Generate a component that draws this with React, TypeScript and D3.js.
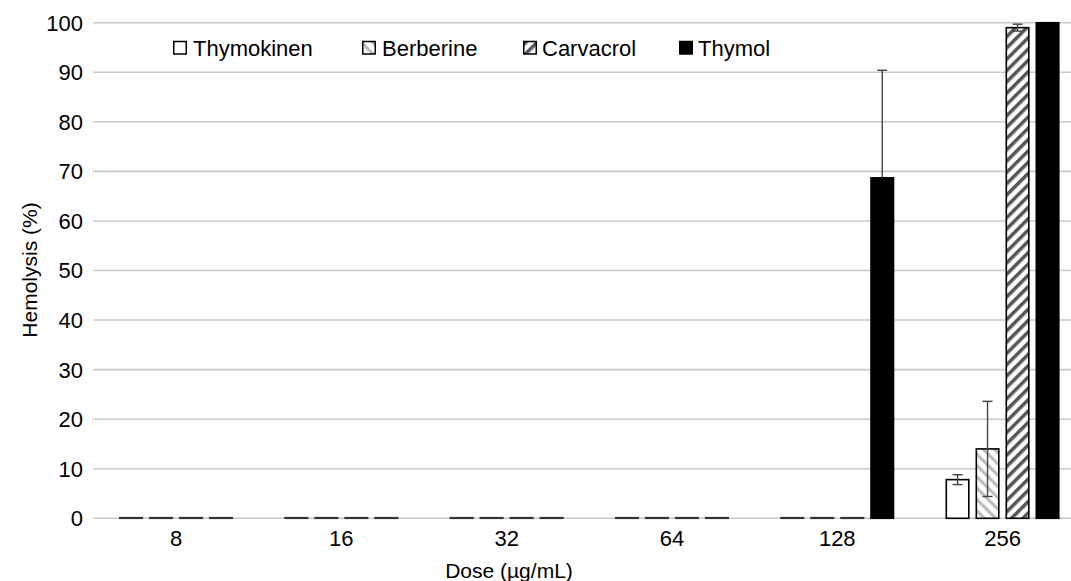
import React from "react";
import * as d3 from "d3";

const categories = ["8", "16", "32", "64", "128", "256"];
const seriesNames = ["Thymokinen", "Berberine", "Carvacrol", "Thymol"];
const thymokinen = [0, 0, 0, 0, 0, 7.8];
const thymokinenErrUp = [0, 0, 0, 0, 0, 1.0];
const thymokinenErrDown = [0, 0, 0, 0, 0, 1.0];
const berberine = [0, 0, 0, 0, 0, 14.0];
const berberineErrUp = [0, 0, 0, 0, 0, 9.6];
const berberineErrDown = [0, 0, 0, 0, 0, 9.6];
const carvacrol = [0, 0, 0, 0, 0, 99.0];
const carvacrolErrUp = [0, 0, 0, 0, 0, 0.7];
const carvacrolErrDown = [0, 0, 0, 0, 0, 0.7];
const thymol = [0, 0, 0, 0, 68.7, 100];
const thymolErrUp = [0, 0, 0, 0, 21.7, 0];
const thymolErrDown = [0, 0, 0, 0, 0, 0];
const yTicks = [0, 10, 20, 30, 40, 50, 60, 70, 80, 90, 100];

const values = [thymokinen, berberine, carvacrol, thymol];
const errUp = [thymokinenErrUp, berberineErrUp, carvacrolErrUp, thymolErrUp];
const errDown = [thymokinenErrDown, berberineErrDown, carvacrolErrDown, thymolErrDown];
const fills = ["#ffffff", "url(#patB)", "url(#patC)", "#000000"];

const W = 1071;
const H = 581;
const FONT = "'Liberation Sans', Arial, sans-serif";

export default function App() {
  const plotLeft = 93.4;
  const catStep = 165.3;
  const x = d3
    .scaleBand()
    .domain(categories)
    .range([plotLeft, plotLeft + catStep * categories.length])
    .padding(0);
  const groupW = 114;
  const xi = d3
    .scaleBand()
    .domain(seriesNames)
    .range([(catStep - groupW) / 2, (catStep - groupW) / 2 + groupW])
    .paddingInner(0.2);
  const y = d3.scaleLinear().domain([0, 100]).range([518.3, 22.7]);

  const legendItems = [
    { box: 173, text: 193 },
    { box: 362, text: 382 },
    { box: 523, text: 542 },
    { box: 679, text: 698 },
  ];

  return (
    <svg
      width={W}
      height={H}
      style={{ position: "absolute", left: 0, top: 0, background: "#fff" }}
      fontFamily={FONT}
    >
      <defs>
        <pattern id="patB" patternUnits="userSpaceOnUse" width="8" height="8" patternTransform="rotate(-45)">
          <rect width="8" height="8" fill="#fff" />
          <rect x="0" y="0" width="3.2" height="8" fill="#bdbdbd" />
        </pattern>
        <pattern id="patC" patternUnits="userSpaceOnUse" width="8" height="8" patternTransform="rotate(45)">
          <rect width="8" height="8" fill="#fff" />
          <rect x="0" y="0" width="3.5" height="8" fill="#555" />
        </pattern>
      </defs>

      {yTicks.map((t) => (
        <g key={t}>
          <line x1={plotLeft} x2={W} y1={y(t)} y2={y(t)} stroke="#c8c8c8" strokeWidth={1.6} />
          <text x={83} y={y(t)} dy="0.36em" textAnchor="end" fontSize={22} fill="#000">
            {t}
          </text>
        </g>
      ))}

      {categories.map((c, ci) =>
        seriesNames.map((s, si) => {
          const v = values[si][ci];
          const eu = errUp[si][ci];
          const ed = errDown[si][ci];
          const bx = (x(c) as number) + (xi(s) as number);
          const bw = xi.bandwidth();
          const top = y(v);
          const h = Math.max(y(0) - top, 0.6);
          const cx = bx + bw / 2;
          return (
            <g key={c + s}>
              <rect
                x={bx + 0.75}
                y={Math.min(top, y(0) - 0.6)}
                width={bw - 1.5}
                height={h}
                fill={fills[si]}
                stroke={v === 0 ? "#333" : "#000"}
                strokeWidth={1.6}
              />
              {(eu > 0 || ed > 0) && (
                <g stroke="#444" strokeWidth={1.4}>
                  <line x1={cx} x2={cx} y1={y(v + eu)} y2={y(v - ed)} />
                  {eu > 0 && <line x1={cx - 5} x2={cx + 5} y1={y(v + eu)} y2={y(v + eu)} />}
                  {ed > 0 && <line x1={cx - 5} x2={cx + 5} y1={y(v - ed)} y2={y(v - ed)} />}
                </g>
              )}
            </g>
          );
        })
      )}

      {categories.map((c) => (
        <text
          key={c}
          x={(x(c) as number) + x.bandwidth() / 2}
          y={546}
          textAnchor="middle"
          fontSize={22}
          fill="#000"
        >
          {c}
        </text>
      ))}

      <text x={509} y={578} textAnchor="middle" fontSize={21} fill="#000">
        Dose (µg/mL)
      </text>
      <text
        transform={`translate(37,270) rotate(-90)`}
        textAnchor="middle"
        fontSize={21}
        fill="#000"
      >
        Hemolysis (%)
      </text>

      {seriesNames.map((s, i) => (
        <g key={s}>
          <rect
            x={legendItems[i].box + 0.75}
            y={41.5}
            width={12.5}
            height={12.5}
            fill={fills[i]}
            stroke="#000"
            strokeWidth={1.5}
          />
          <text x={legendItems[i].text} y={55.5} fontSize={22} fill="#000">
            {s}
          </text>
        </g>
      ))}
    </svg>
  );
}
